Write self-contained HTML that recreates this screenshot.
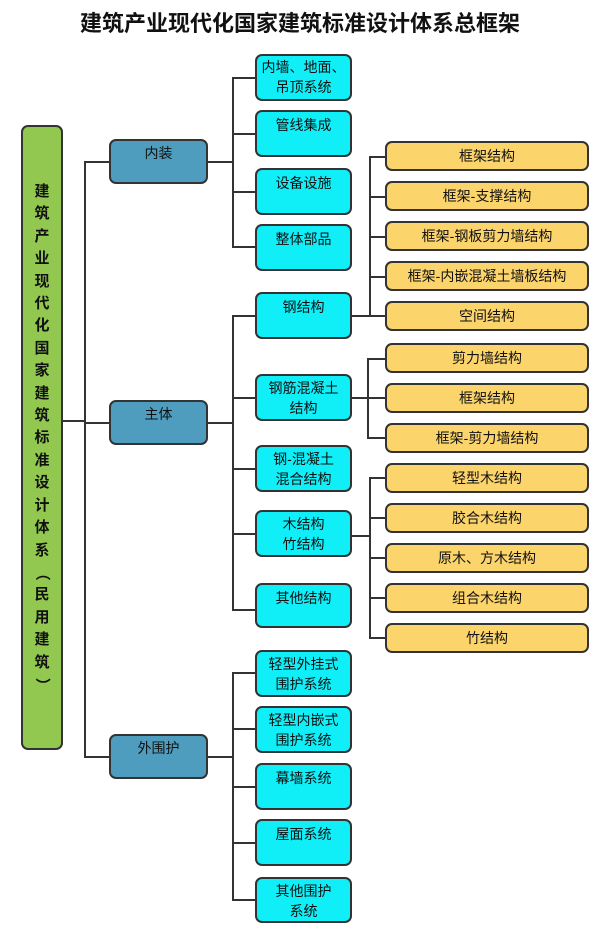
<!DOCTYPE html>
<html><head><meta charset="utf-8"><style>
body{margin:0;width:600px;height:932px;background:#fff;position:relative;overflow:hidden;font-family:"Liberation Sans","Noto Sans CJK SC",sans-serif;}
.b{position:absolute;box-sizing:border-box;border:2px solid #333;border-radius:7px;text-align:center;font-size:14px;color:#111;line-height:20px;}
.c{background:#10eef8;left:255px;width:97px;padding-top:3px;}
.o{background:#fcd46c;left:385px;width:204px;height:30px;line-height:26px;}
.m{background:#4f9dbe;left:109px;width:99px;height:45px;padding-top:2px;}
.h{position:absolute;height:2px;background:#333;}
.v{position:absolute;width:2px;background:#333;}
</style></head><body>
<div style="position:absolute;left:0;top:6px;width:600px;text-align:center;font-size:22px;font-weight:bold;color:#111;">建筑产业现代化国家建筑标准设计体系总框架</div>
<div class="b" style="left:21px;top:125px;width:42px;height:625px;background:#92c850;font-size:15px;line-height:22.4px;padding-top:54px;font-weight:bold;">建<br>筑<br>产<br>业<br>现<br>代<br>化<br>国<br>家<br>建<br>筑<br>标<br>准<br>设<br>计<br>体<br>系<br><span style="display:inline-block;transform:rotate(90deg)">（</span><br>民<br>用<br>建<br>筑<br><span style="display:inline-block;transform:rotate(90deg)">）</span></div>
<div class="v" style="left:84px;top:161px;height:597px"></div>
<div class="h" style="left:63px;top:420px;width:22px"></div>
<div class="h" style="left:84px;top:161px;width:25px"></div>
<div class="h" style="left:84px;top:422px;width:25px"></div>
<div class="h" style="left:84px;top:756px;width:25px"></div>
<div class="b m" style="top:139px">内装</div>
<div class="b m" style="top:400px">主体</div>
<div class="b m" style="top:734px">外围护</div>
<div class="h" style="left:208px;top:161px;width:25px"></div>
<div class="v" style="left:232px;top:77px;height:171px"></div>
<div class="h" style="left:232px;top:77px;width:23px"></div>
<div class="h" style="left:232px;top:133px;width:23px"></div>
<div class="h" style="left:232px;top:191px;width:23px"></div>
<div class="h" style="left:232px;top:246px;width:23px"></div>
<div class="b c" style="top:54px;height:47px;padding-top:1px">内墙、地面、<br>吊顶系统</div>
<div class="b c" style="top:110px;height:47px">管线集成</div>
<div class="b c" style="top:168px;height:47px">设备设施</div>
<div class="b c" style="top:224px;height:47px">整体部品</div>
<div class="h" style="left:208px;top:422px;width:25px"></div>
<div class="v" style="left:232px;top:315px;height:295px"></div>
<div class="h" style="left:232px;top:315px;width:23px"></div>
<div class="h" style="left:232px;top:397px;width:23px"></div>
<div class="h" style="left:232px;top:468px;width:23px"></div>
<div class="h" style="left:232px;top:533px;width:23px"></div>
<div class="h" style="left:232px;top:609px;width:23px"></div>
<div class="b c" style="top:292px;height:47px">钢结构</div>
<div class="b c" style="top:374px;height:47px;padding-top:2px">钢筋混凝土<br>结构</div>
<div class="b c" style="top:445px;height:47px;padding-top:2px">钢-混凝土<br>混合结构</div>
<div class="b c" style="top:510px;height:47px;padding-top:2px">木结构<br>竹结构</div>
<div class="b c" style="top:583px;height:45px">其他结构</div>
<div class="h" style="left:352px;top:315px;width:18px"></div>
<div class="v" style="left:369px;top:156px;height:161px"></div>
<div class="h" style="left:369px;top:156px;width:16px"></div>
<div class="h" style="left:369px;top:196px;width:16px"></div>
<div class="h" style="left:369px;top:236px;width:16px"></div>
<div class="h" style="left:369px;top:276px;width:16px"></div>
<div class="h" style="left:369px;top:315px;width:16px"></div>
<div class="b o" style="top:141px">框架结构</div>
<div class="b o" style="top:181px">框架-支撑结构</div>
<div class="b o" style="top:221px">框架-钢板剪力墙结构</div>
<div class="b o" style="top:261px">框架-内嵌混凝土墙板结构</div>
<div class="b o" style="top:301px">空间结构</div>
<div class="h" style="left:352px;top:397px;width:17px"></div>
<div class="v" style="left:367px;top:358px;height:80px"></div>
<div class="h" style="left:367px;top:358px;width:18px"></div>
<div class="h" style="left:367px;top:397px;width:18px"></div>
<div class="h" style="left:367px;top:437px;width:18px"></div>
<div class="b o" style="top:343px">剪力墙结构</div>
<div class="b o" style="top:383px">框架结构</div>
<div class="b o" style="top:423px">框架-剪力墙结构</div>
<div class="h" style="left:352px;top:535px;width:19px"></div>
<div class="v" style="left:369px;top:477px;height:162px"></div>
<div class="h" style="left:369px;top:477px;width:16px"></div>
<div class="h" style="left:369px;top:517px;width:16px"></div>
<div class="h" style="left:369px;top:557px;width:16px"></div>
<div class="h" style="left:369px;top:597px;width:16px"></div>
<div class="h" style="left:369px;top:637px;width:16px"></div>
<div class="b o" style="top:463px">轻型木结构</div>
<div class="b o" style="top:503px">胶合木结构</div>
<div class="b o" style="top:543px">原木、方木结构</div>
<div class="b o" style="top:583px">组合木结构</div>
<div class="b o" style="top:623px">竹结构</div>
<div class="h" style="left:208px;top:756px;width:25px"></div>
<div class="v" style="left:232px;top:672px;height:229px"></div>
<div class="h" style="left:232px;top:672px;width:23px"></div>
<div class="h" style="left:232px;top:728px;width:23px"></div>
<div class="h" style="left:232px;top:786px;width:23px"></div>
<div class="h" style="left:232px;top:842px;width:23px"></div>
<div class="h" style="left:232px;top:899px;width:23px"></div>
<div class="b c" style="top:650px;height:47px;padding-top:2px">轻型外挂式<br>围护系统</div>
<div class="b c" style="top:706px;height:47px;padding-top:2px">轻型内嵌式<br>围护系统</div>
<div class="b c" style="top:763px;height:47px">幕墙系统</div>
<div class="b c" style="top:819px;height:47px">屋面系统</div>
<div class="b c" style="top:877px;height:46px;padding-top:2px">其他围护<br>系统</div>
</body></html>
